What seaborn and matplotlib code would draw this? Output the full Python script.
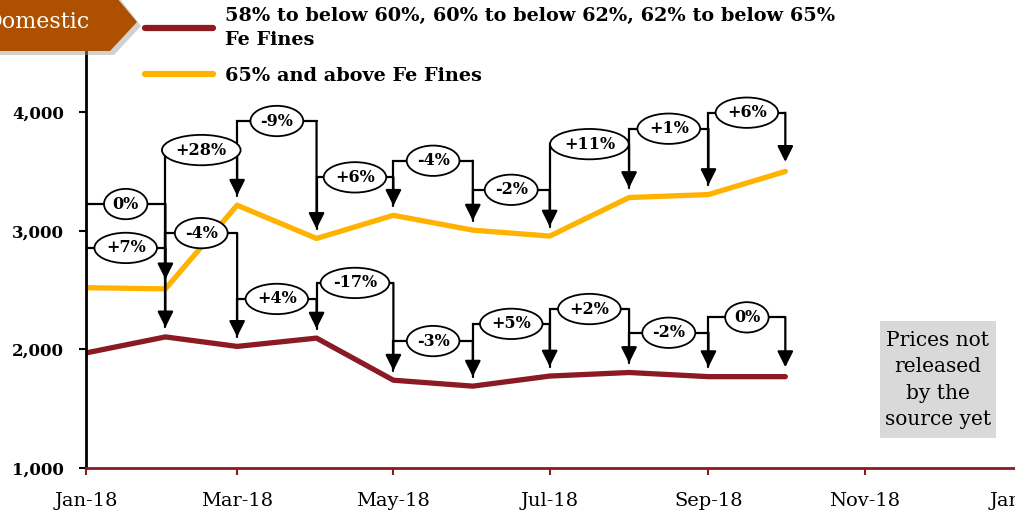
import pandas as pd
import seaborn as sns
import matplotlib.pyplot as plt
import matplotlib.dates as mdates
from matplotlib.patches import Polygon, Rectangle

# monthly domestic iron ore fines prices (Rs/tonne), Jan-18 .. Oct-18
months = pd.date_range("2018-01-01", "2018-10-01", freq="MS")
low_grade = [1970, 2105, 2025, 2095, 1740, 1690, 1775, 1805, 1770, 1770]
high_grade = [2520, 2510, 3215, 2935, 3130, 3005, 2955, 3280, 3305, 3500]

# month-on-month change labels, as printed on the chart
low_pct = ["+7%", "-4%", "+4%", "-17%", "-3%", "+5%", "+2%", "-2%", "0%"]
high_pct = ["0%", "+28%", "-9%", "+6%", "-4%", "-2%", "+11%", "+1%", "+6%"]

# height of each bracket (placement of the labels)
low_level = [2855, 2980, 2425, 2560, 2070, 2215, 2340, 2140, 2270]
high_level = [3225, 3680, 3925, 3450, 3590, 3345, 3730, 3860, 3995]

low_name = "58% to below 60%, 60% to below 62%, 62% to below 65%\nFe Fines"
high_name = "65% and above Fe Fines"

df = pd.DataFrame({
    "month": list(months) * 2,
    "price": low_grade + high_grade,
    "grade": [low_name] * len(months) + [high_name] * len(months),
})

sns.set_theme(style="white")
plt.rcParams["font.family"] = ["DejaVu Serif"]
plt.rcParams["text.color"] = "black"
plt.rcParams["xtick.color"] = "black"
plt.rcParams["ytick.color"] = "black"

fig = plt.figure(figsize=(10.15, 5.12), dpi=100)
ax = fig.add_axes([86 / 1015, 44 / 512, 935 / 1015, 468 / 512])

red = "#8B1A22"
gold = "#FFB300"
sns.lineplot(data=df, x="month", y="price", hue="grade",
             palette={low_name: red, high_name: gold}, lw=3.8, ax=ax,
             zorder=2)

ax.set_xlim(pd.Timestamp("2018-01-01"), pd.Timestamp("2019-01-01"))
ax.set_ylim(1000, 4945)
ax.set_yticks([1000, 2000, 3000, 4000])
ax.set_yticklabels(["1,000", "2,000", "3,000", "4,000"], fontweight="bold",
                   fontsize=12)
ax.xaxis.set_major_locator(mdates.MonthLocator(bymonth=[1, 3, 5, 7, 9, 11]))
ax.xaxis.set_major_formatter(mdates.DateFormatter("%b-%y"))
ax.tick_params(axis="x", labelsize=14, length=5, width=1.5, color=red,
               labelcolor="black", pad=12, direction="out", bottom=True)
ax.tick_params(axis="y", length=5, width=1.5, color="black",
               labelcolor="black", pad=11, direction="out", left=True)
ax.set_xlabel("")
ax.set_ylabel("")
for s in ["top", "right"]:
    ax.spines[s].set_visible(False)
ax.spines["left"].set_color("black")
ax.spines["left"].set_linewidth(2)
ax.spines["bottom"].set_color(red)
ax.spines["bottom"].set_linewidth(2)


def brackets(values, labels, levels):
    off = 80
    for i in range(len(labels)):
        x1, x2 = months[i], months[i + 1]
        y1, y2 = values[i] + off, values[i + 1] + off
        lv = levels[i]
        ax.plot([x1, x1, x2], [y1, lv, lv], color="black", lw=1.6,
                zorder=4, solid_joinstyle="miter")
        ax.annotate("", xy=(x2, y2), xytext=(x2, lv),
                    arrowprops=dict(arrowstyle="-|>", color="black", lw=1.6,
                                    mutation_scale=24, shrinkA=0, shrinkB=0),
                    zorder=4)
        xm = x1 + (x2 - x1) / 2
        ax.text(xm, lv, labels[i], ha="center", va="center", fontsize=11.5,
                fontweight="bold", zorder=5,
                bbox=dict(boxstyle="ellipse,pad=0.14", fc="white",
                          ec="black", lw=1.3))


brackets(high_grade, high_pct, high_level)
brackets(low_grade, low_pct, low_level)

leg = ax.legend(loc="upper left", bbox_to_anchor=(128 / 1015, 1.02),
                bbox_transform=fig.transFigure, frameon=False,
                prop={"weight": "bold", "size": 13.9}, handlelength=3.5,
                handletextpad=0.6, labelspacing=0.95)
for line in leg.get_lines():
    line.set_linewidth(4.5)
for t in leg.get_texts():
    t.set_linespacing(1.4)

# "Domestic" tag in the corner
shadow = Polygon([(-0.05, 1.02), (113 / 1015, 1.02), (141 / 1015, 1 - 26 / 512),
                  (114 / 1015, 1 - 55 / 512), (-0.05, 1 - 55 / 512)],
                 closed=True, transform=fig.transFigure, fc="#999999",
                 alpha=0.45, ec="none", zorder=9)
fig.patches.append(shadow)
badge = Polygon([(-0.05, 1.02), (110 / 1015, 1.02), (137 / 1015, 1 - 22 / 512),
                 (110 / 1015, 1 - 51 / 512), (-0.05, 1 - 51 / 512)],
                closed=True, transform=fig.transFigure, fc="#AD5100",
                ec="none", zorder=10)
fig.patches.append(badge)
fig.text(90 / 1015, 1 - 22 / 512, "Domestic", color="white", fontsize=16,
         ha="right", va="center", zorder=11)

# note box
fig.patches.append(Rectangle((880 / 1015, 1 - 438 / 512), 116 / 1015,
                             117 / 512, transform=fig.transFigure,
                             fc="#D9D9D9", ec="none", zorder=3))
fig.text(938 / 1015, 1 - 380 / 512,
         "Prices not\nreleased\nby the\nsource yet", ha="center",
         va="center", fontsize=14.5, linespacing=1.5, zorder=4)

fig.savefig("out.png", dpi=100)
